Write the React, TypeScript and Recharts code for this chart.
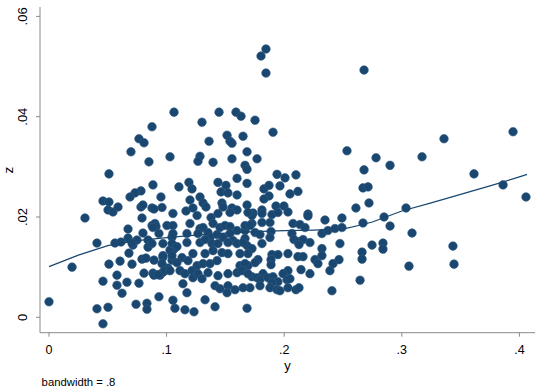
import React from 'react';
import { ScatterChart, Scatter, XAxis, YAxis } from 'recharts';

const xTicks = [0, 0.1, 0.2, 0.3, 0.4];
const xTickLabels = ['0', '.1', '.2', '.3', '.4'];
const zTicks = [0, 0.02, 0.04, 0.06];
const zTickLabels = ['0', '.02', '.04', '.06'];
const xTitle = 'y';
const zTitle = 'z';
const note = 'bandwidth = .8';

// observations, left part
const leftY = [
  0, .0196, .0306, .0408, .0510, .0459, .0408, .0502, .0459, .0578,
  .0578, .0621, .0663, .0604, .0680, .0706, .0740, .0765, .0833, .0833,
  .0808, .0791, .0825, .0561, .0612, .0672, .0672, .0714, .0748, .0799,
  .0842, .0842, .0791, .0782, .0799, .0459, .0510, .0502, .0544, .0587,
  .1063, .0876, .0765, .0808, .0697, .0850, .1029, .0510, .0884, .1105,
  .0782, .0731, .0689, .0952, .0876, .0706, .0893, .0884, .0876, .0901,
  .0910, .0884, .0935, .0969, .0961, .1003, .1054, .1054, .1046, .1063,
  .1029, .0893, .0935, .0893, .0944, .0969, .0969, .1012, .1054, .1071,
  .1046,
];
const leftZ = [
  .0031, .0100, .0198, .0148, .0106, .0072, .0017, .0020, -.0013, .0064,
  .0084, .0048, .0070, .0112, .0128, .0106, .0026, .0068, .0028, .0016,
  .0088, .0116, .0118, .0148, .0150, .0158, .0176, .0144, .0154, .0168,
  .0154, .0140, .0198, .0220, .0224, .0232, .0230, .0214, .0210, .0220,
  .0409, .0380, .0356, .0348, .0330, .0310, .0320, .0286, .0264, .0260,
  .0252, .0248, .0240, .0240, .0218, .0148, .0114, .0088, .0183, .0187,
  .0181, .0179, .0167, .0147, .0219, .0183, .0207, .0183, .0160, .0136,
  .0134, .0216, .0041, .0084, .0084, .0090, .0120, .0098, .0034, .0018,
  .0114,
];

// observations, upper middle
const upperY = [
  .1446, .1590, .1633, .1301, .1752, .1905, .1514, .1650, .1539, .1556,
  .1361, .1684, .1284, .1267, .1395, .1556, .1769, .1667, .1684, .1599,
  .1684, .1190, .1216, .1437, .1505, .1463, .1522, .1599, .1284, .1199,
  .1310, .1335, .1471, .1480, .1165, .1224, .1556, .1599, .1684, .1845,
  .1803, .1845, .1939, .2007, .2100, .1828, .1871, .1964, .2117, .2049,
  .1871, .1828, .1811, .1930, .1998, .2032, .2202, .1735, .2534,
];
const upperZ = [
  .0409, .0409, .0401, .0389, .0393, .0369, .0363, .0361, .0351, .0347,
  .0351, .0330, .0321, .0311, .0309, .0316, .0316, .0303, .0295, .0277,
  .0267, .0269, .0256, .0269, .0263, .0250, .0248, .0244, .0240, .0234,
  .0228, .0220, .0228, .0220, .0212, .0218, .0218, .0214, .0224, .0535,
  .0521, .0487, .0285, .0278, .0284, .0256, .0263, .0262, .0251, .0246,
  .0242, .0236, .0214, .0222, .0222, .0210, .0206, .0208, .0332,
];

// observations, right part
const rightY = [
  .2679, .3946, .3359, .2781, .3172, .2900, .2679, .3614, .3861, .2670,
  .2713, .4056, .2721, .3036, .2849, .2670, .2900, .3087, .2747, .2840,
  .2840, .2662, .2662, .3435, .3444, .3061, .2645, .2491, .2347, .2202,
  .2610,
];
const rightZ = [
  .0493, .0370, .0356, .0318, .0320, .0303, .0294, .0286, .0264, .0258,
  .0260, .0240, .0228, .0218, .0200, .0188, .0182, .0168, .0144, .0148,
  .0136, .0130, .0116, .0142, .0106, .0102, .0074, .0198, .0194, .0202,
  .0218,
];

// observations, lower middle-right
const lowerRightY = [
  .1726, .1811, .1896, .1947, .1726, .1811, .1879, .2075, .2134, .2177,
  .1667, .1752, .1794, .1888, .1879, .2066, .2321, .2372, .2432, .2491,
  .2083, .2117, .2160, .2219, .2126, .1811, .1684, .1726, .1692, .2321,
  .2474, .1896, .1947, .1888, .1888, .2032, .2117, .2160, .2262, .2321,
  .2287, .2415, .2466, .1777, .1752, .1692, .2032, .1990, .2143, .2219,
  .2389, .1726, .1769, .1820, .1794, .1862, .1905, .1947, .1896, .2024,
  .2049, .1709, .1794, .1879, .1939, .1964, .2032, .2100, .2126, .2406,
  .1684,
];
const lowerRightZ = [
  .0203, .0207, .0205, .0209, .0187, .0189, .0189, .0187, .0185, .0179,
  .0173, .0169, .0165, .0171, .0159, .0167, .0167, .0173, .0177, .0179,
  .0155, .0151, .0155, .0149, .0145, .0147, .0143, .0137, .0127, .0137,
  .0147, .0125, .0125, .0115, .0105, .0127, .0121, .0121, .0115, .0123,
  .0107, .0107, .0115, .0115, .0109, .0103, .0093, .0087, .0095, .0087,
  .0093, .0081, .0079, .0087, .0075, .0079, .0081, .0071, .0069, .0075,
  .0077, .0059, .0063, .0059, .0055, .0053, .0059, .0055, .0059, .0053,
  .0018,
];

// observations, lower middle
const lowerMidY = [
  .1259, .1378, .1437, .1539, .1692, .1199, .1284, .1310, .1395, .1454,
  .1497, .1539, .1599, .1667, .1709, .1054, .1173, .1267, .1352, .1369,
  .1429, .1480, .1539, .1565, .1667, .0876, .1046, .1088, .1173, .1284,
  .1327, .1386, .1437, .1522, .1599, .1650, .0969, .1046, .1131, .1224,
  .1327, .1395, .1471, .1522, .1624, .0961, .1088, .1182, .1259, .1310,
  .1369, .1429, .1624, .1667, .0927, .0986, .1029, .1114, .1156, .1216,
  .1224, .1267, .1301, .1352, .1437, .1522, .1599, .1641, .1692, .1139,
  .1412, .1454, .1522, .1514, .1582, .1650, .1173, .1327, .1156, .1233,
  .1412,
];
const lowerMidZ = [
  .0203, .0199, .0207, .0209, .0209, .0187, .0177, .0179, .0187, .0179,
  .0183, .0181, .0173, .0183, .0183, .0167, .0167, .0167, .0169, .0159,
  .0165, .0159, .0167, .0153, .0157, .0147, .0147, .0141, .0149, .0149,
  .0155, .0147, .0147, .0149, .0147, .0149, .0123, .0123, .0119, .0127,
  .0127, .0133, .0129, .0127, .0127, .0107, .0109, .0113, .0103, .0107,
  .0107, .0113, .0103, .0107, .0085, .0093, .0093, .0093, .0087, .0093,
  .0079, .0087, .0077, .0089, .0083, .0087, .0089, .0093, .0087, .0067,
  .0063, .0057, .0063, .0049, .0055, .0059, .0049, .0035, .0015, .0011,
  .0021,
];

// lowess smooth
const lowessY = [0, .025, .05, .075, .1, .125, .15, .175, .2, .225, .25, .265, .275, .3, .325, .35, .375, .4, .4065];
const lowessZ = [.0101, .0124, .0143, .0153, .0159, .0164, .0168, .0171, .0173, .0174, .0176, .0184, .0190, .0212, .0228, .0245, .0262, .0280, .0285];

const obsY = [...leftY, ...upperY, ...rightY, ...lowerRightY, ...lowerMidY];
const obsZ = [...leftZ, ...upperZ, ...rightZ, ...lowerRightZ, ...lowerMidZ];
const points = obsY.map((y, i) => ({ x: y, z: obsZ[i] }));
const lowess = lowessY.map((y, i) => ({ x: y, z: lowessZ[i] }));

const NAVY = '#1a476f';
const AXIS = '#8a8a8a';
const FONT = '"Liberation Sans", Arial, Helvetica, sans-serif';

const Dot = (props: any) => {
  const { cx, cy } = props;
  if (cx == null || cy == null) return <g />;
  return <circle cx={cx} cy={cy} r={4.3} fill={NAVY} stroke="#2f5b85" strokeWidth={0.6} />;
};

const ZTick = (props: any) => {
  const { y, payload } = props;
  const idx = zTicks.indexOf(payload.value);
  const label = idx >= 0 ? zTickLabels[idx] : String(payload.value);
  const tx = 27.3;
  return (
    <text x={tx} y={y} transform={`rotate(-90 ${tx} ${y})`} textAnchor="middle"
      fontSize={13} fontFamily={FONT} fill="#000">{label}</text>
  );
};

const Titles = () => (
  <g>
    <text x={287.5} y={369.5} textAnchor="middle" fontSize={13} fontFamily={FONT} fill="#000">{xTitle}</text>
    <text x={13} y={170} transform="rotate(-90 13 170)" textAnchor="middle" fontSize={13.5} fontFamily={FONT} fill="#000">{zTitle}</text>
    <text x={41.6} y={386} fontSize={11.3} fontFamily={FONT} fill="#000">{note}</text>
  </g>
);

export default function App() {
  return (
    <div style={{ position: 'absolute', left: 0, top: 0, width: 540, height: 392, background: '#fff' }}>
      <ScatterChart width={540} height={392} margin={{ top: 7, right: 5, bottom: 0, left: 0 }}>
        <XAxis type="number" dataKey="x" domain={[-0.00765, 0.41327]} ticks={xTicks} allowDataOverflow
          interval={0} height={59.3} tickSize={4} tickMargin={8.5}
          tickFormatter={(v: number) => { const i = xTicks.indexOf(v); return i >= 0 ? xTickLabels[i] : String(v); }}
          tick={{ fill: '#000', fontSize: 12.5, fontFamily: FONT }}
          axisLine={{ stroke: AXIS }} tickLine={{ stroke: AXIS }}
          label={{ content: () => <Titles /> }} />
        <YAxis type="number" dataKey="z" domain={[-0.00307, 0.06187]} ticks={zTicks} allowDataOverflow
          interval={0} width={40} tickSize={4} tick={<ZTick />}
          axisLine={{ stroke: AXIS }} tickLine={{ stroke: AXIS }} />
        <Scatter data={points} shape={<Dot />} isAnimationActive={false} />
        <Scatter data={lowess} shape={() => <g />} line={{ stroke: NAVY, strokeWidth: 1.2 }} isAnimationActive={false} />
      </ScatterChart>
    </div>
  );
}
